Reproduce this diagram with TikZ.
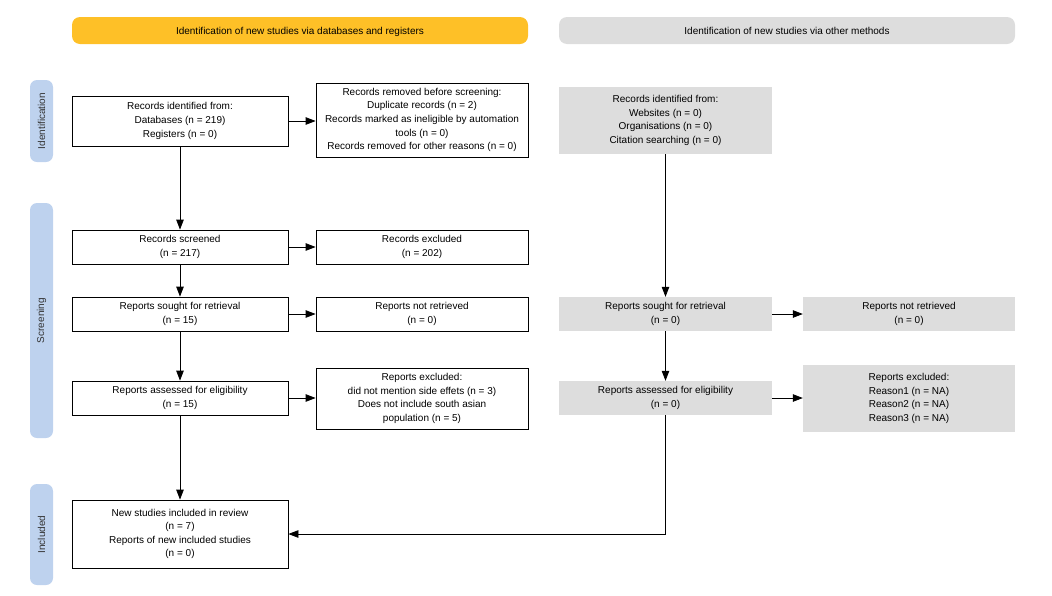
\documentclass[tikz,border=0pt]{standalone}
\usepackage{fontspec}
\setmainfont{Liberation Sans}
\usetikzlibrary{arrows.meta}
\definecolor{hdryellow}{RGB}{254,192,39}
\definecolor{hdrgrey}{RGB}{221,221,221}
\definecolor{sideblue}{RGB}{190,210,238}
\definecolor{greybox}{RGB}{221,221,221}
\tikzset{
  txt/.style={align=center, font=\fontsize{10}{13.6}\selectfont, inner sep=2pt},
  wbox/.style={txt, draw=black, line width=0.8pt, fill=white},
  gbox/.style={txt, fill=greybox},
  hdr/.style={txt, rounded corners=8pt, minimum width=456pt, minimum height=27pt, text height=8pt, text depth=0pt},
  side/.style={fill=sideblue, rounded corners=7pt, rotate=90, minimum height=23pt,
    font=\fontsize{10}{12}\selectfont, text=black!80, inner sep=0pt},
  conn/.style={line width=0.8pt, -{Triangle[length=10pt,width=7.5pt]}},
  line/.style={line width=0.8pt}
}
\begin{document}
\begin{tikzpicture}[x=1pt,y=1pt]
\useasboundingbox (0,0) rectangle (1052,-595);
% headers
\node[hdr, fill=hdryellow] (h1) at (300,-30.5) {Identification of new studies via databases and registers};
\node[hdr, fill=hdrgrey] (h2) at (787,-30.5) {Identification of new studies via other methods};
% side labels
\node[side, minimum width=82pt] (s1) at (41.5,-121) {Identification};
\node[side, minimum width=235pt] (s2) at (41.5,-320.5) {Screening};
\node[side, minimum width=101pt] (s3) at (41.5,-534.5) {Included};
% left column
\node[wbox, minimum width=216pt, minimum height=50pt] (a1) at (180,-121) {Records identified from:\\Databases (n = 219)\\Registers (n = 0)};
\node[wbox, minimum width=212pt, minimum height=74pt] (a2) at (422,-120) {Records removed before screening:\\Duplicate records (n = 2)\\Records marked as ineligible by automation\\tools (n = 0)\\Records removed for other reasons (n = 0)};
\node[wbox, minimum width=216pt, minimum height=34pt] (a3) at (180,-247) {Records screened\\(n = 217)};
\node[wbox, minimum width=212pt, minimum height=34pt] (a4) at (422,-247) {Records excluded\\(n = 202)};
\node[wbox, minimum width=216pt, minimum height=34pt] (a5) at (180,-314) {Reports sought for retrieval\\(n = 15)};
\node[wbox, minimum width=212pt, minimum height=34pt] (a6) at (422,-314) {Reports not retrieved\\(n = 0)};
\node[wbox, minimum width=216pt, minimum height=34pt] (a7) at (180,-398) {Reports assessed for eligibility\\(n = 15)};
\node[wbox, minimum width=212pt, minimum height=61pt] (a8) at (422,-398.5) {Reports excluded:\\did not mention side effets (n = 3)\\Does not include south asian\\population (n = 5)};
\node[wbox, minimum width=216pt, minimum height=68pt] (a9) at (180,-534) {New studies included in review\\(n = 7)\\Reports of new included studies\\(n = 0)};
% right column
\node[gbox, minimum width=213pt, minimum height=67pt] (b1) at (665.5,-120.5) {Records identified from:\\Websites (n = 0)\\Organisations (n = 0)\\Citation searching (n = 0)};
\node[gbox, minimum width=213pt, minimum height=34pt] (b2) at (665.5,-314) {Reports sought for retrieval\\(n = 0)};
\node[gbox, minimum width=212pt, minimum height=34pt] (b3) at (909,-314) {Reports not retrieved\\(n = 0)};
\node[gbox, minimum width=213pt, minimum height=34pt] (b4) at (665.5,-398) {Reports assessed for eligibility\\(n = 0)};
\node[gbox, minimum width=212pt, minimum height=67pt] (b5) at (909,-398.5) {Reports excluded:\\Reason1 (n = NA)\\Reason2 (n = NA)\\Reason3 (n = NA)};
% connectors
\draw[conn] (a1.south) -- (a3.north);
\draw[conn] (a1.east) -- (a1.east -| a2.west);
\draw[conn] (a3.south) -- (a5.north);
\draw[conn] (a3.east) -- (a4.west);
\draw[conn] (a5.south) -- (a7.north);
\draw[conn] (a5.east) -- (a6.west);
\draw[conn] (a7.south) -- (a9.north);
\draw[conn] (a7.east) -- (a7.east -| a8.west);
\draw[conn] (b1.south) -- (b2.north);
\draw[conn] (b2.east) -- (b3.west);
\draw[conn] (b2.south) -- (b4.north);
\draw[conn] (b4.east) -- (b4.east -| b5.west);
\draw[conn] (b4.south) |- (a9.east);
\end{tikzpicture}
\end{document}
